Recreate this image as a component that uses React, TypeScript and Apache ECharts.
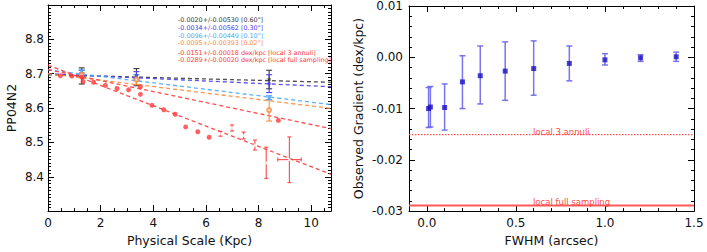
import React, { useEffect, useRef } from "react";
import * as echarts from "echarts";

const FONT = "DejaVu Sans";

// ---------- Left panel data ----------
const leftXRange = [0, 10.75];
const leftYRange = [8.3, 8.9];

// filled red points (local full sampling annuli)
const redX = [0.47, 0.91, 1.28, 1.33, 1.73, 2.18, 2.62, 3.06, 3.51, 3.51, 3.95, 4.40, 4.83, 5.23, 5.69, 6.12, 8.75];
const redY = [8.694, 8.693, 8.690, 8.677, 8.675, 8.666, 8.657, 8.653, 8.662, 8.640, 8.608, 8.595, 8.582, 8.545, 8.531, 8.515, 8.564];

// red points with error bars
const redErrX = [6.55, 6.99, 7.43, 7.86, 8.29, 9.17];
const redErrY = [8.525, 8.542, 8.520, 8.492, 8.440, 8.450];
const redErrLo = [8.518, 8.533, 8.510, 8.478, 8.395, 8.383];
const redErrHi = [8.532, 8.551, 8.530, 8.507, 8.486, 8.516];
const redXErrY = [8.450];
const redXErrLo = [8.73];
const redXErrHi = [9.62];

// convolved measurements at three scales
const convX = [1.28, 3.36, 8.40];
const blackY = [8.694, 8.690, 8.683];
const blackLo = [8.670, 8.665, 8.656];
const blackHi = [8.717, 8.715, 8.710];
const blueY = [8.700, 8.695, 8.671];
const blueLo = [8.692, 8.684, 8.645];
const blueHi = [8.710, 8.706, 8.697];
const cyanY = [8.706, 8.688, 8.630];
const cyanLo = [8.700, 8.680, 8.624];
const cyanHi = [8.711, 8.697, 8.636];
const orangeY = [8.697, 8.683, 8.594];
const orangeLo = [8.690, 8.668, 8.562];
const orangeHi = [8.703, 8.697, 8.625];

// fitted gradients: value at x=0 and at right edge
const fitNames = ["0.60", "0.30", "0.10", "0.02", "local 3 annuli", "local full sampling"];
const fitStartY = [8.697, 8.700, 8.711, 8.700, 8.712, 8.725];
const fitEndY = [8.675, 8.662, 8.610, 8.599, 8.540, 8.407];

const legendTexts = [
  "-0.0020+/-0.00530 [0.60\"]",
  "-0.0034+/-0.00562 [0.30\"]",
  "-0.0096+/-0.00449 [0.10\"]",
  "-0.0095+/-0.00393 [0.02\"]",
  "-0.0151+/-0.00018 dex/kpc [local 3 annuli]",
  "-0.0289+/-0.00020 dex/kpc [local full sampling]",
];

// ---------- Right panel data ----------
const rightXRange = [-0.1, 1.5];
const rightYRange = [-0.03, 0.01];
const fwhm = [0.01, 0.02, 0.10, 0.20, 0.30, 0.44, 0.60, 0.80, 1.00, 1.20, 1.40];
const grad = [-0.0100, -0.0097, -0.0098, -0.0048, -0.0036, -0.0027, -0.0022, -0.0012, -0.0005, -0.0001, 0.0001];
const gradLo = [-0.0137, -0.0136, -0.0142, -0.0100, -0.0091, -0.0084, -0.0074, -0.0046, -0.0015, -0.0008, -0.0008];
const gradHi = [-0.0059, -0.0057, -0.0052, 0.0003, 0.0022, 0.0030, 0.0032, 0.0022, 0.0007, 0.0005, 0.0010];
const refLabels = ["local 3 annuli", "local full sampling"];
const refValues = [-0.0151, -0.0289];

// ---------- Colours ----------
const C_BLACK = "#3a3a3a";
const C_BLUE = "#4a3cec";
const C_CYAN = "#4aa8f8";
const C_ORANGE = "#ff8a3a";
const C_RED = "#ff3a3a";
const fitColors = [C_BLACK, C_BLUE, C_CYAN, C_ORANGE, C_RED, C_RED];

function vErrSeries(xs: number[], lo: number[], hi: number[], color: string, xi: number, yi: number, cap: number, lw: number, opacity = 1) {
  return {
    type: "custom",
    xAxisIndex: xi,
    yAxisIndex: yi,
    encode: { x: 0, y: [1, 2] },
    data: xs.map((x, i) => [x, lo[i], hi[i]]),
    z: 3,
    renderItem: (params: any, api: any) => {
      const x = api.value(0);
      const p1 = api.coord([x, api.value(1)]);
      const p2 = api.coord([x, api.value(2)]);
      const st = { stroke: color, lineWidth: lw, opacity };
      return {
        type: "group",
        children: [
          { type: "line", shape: { x1: p1[0], y1: p1[1], x2: p2[0], y2: p2[1] }, style: st },
          { type: "line", shape: { x1: p1[0] - cap, y1: p1[1], x2: p1[0] + cap, y2: p1[1] }, style: st },
          { type: "line", shape: { x1: p2[0] - cap, y1: p2[1], x2: p2[0] + cap, y2: p2[1] }, style: st },
        ],
      };
    },
  };
}

function hErrSeries(ys: number[], lo: number[], hi: number[], color: string, xi: number, yi: number, cap: number, lw: number) {
  return {
    type: "custom",
    xAxisIndex: xi,
    yAxisIndex: yi,
    encode: { x: [1, 2], y: 0 },
    data: ys.map((y, i) => [y, lo[i], hi[i]]),
    z: 3,
    renderItem: (params: any, api: any) => {
      const y = api.value(0);
      const p1 = api.coord([api.value(1), y]);
      const p2 = api.coord([api.value(2), y]);
      const st = { stroke: color, lineWidth: lw, opacity: 0.85 };
      return {
        type: "group",
        children: [
          { type: "line", shape: { x1: p1[0], y1: p1[1], x2: p2[0], y2: p2[1] }, style: st },
          { type: "line", shape: { x1: p1[0], y1: p1[1] - cap, x2: p1[0], y2: p1[1] + cap }, style: st },
          { type: "line", shape: { x1: p2[0], y1: p2[1] - cap, x2: p2[0], y2: p2[1] + cap }, style: st },
        ],
      };
    },
  };
}

const axisCommon = {
  axisLine: { show: true, onZero: false, lineStyle: { color: "#000", width: 1 } },
  axisTick: { show: true, inside: true, length: 6, lineStyle: { color: "#000" } },
  minorTick: { show: true, length: 3, lineStyle: { color: "#000" } },
  splitLine: { show: false },
  nameTextStyle: { color: "#111", fontFamily: FONT, fontSize: 12.5 },
};
const labelStyle = { color: "#111", fontFamily: FONT, fontSize: 12 };

export default function App() {
  const ref = useRef<HTMLDivElement>(null);
  useEffect(() => {
    if (!ref.current) return;
    document.body.style.margin = "0";
    const chart = echarts.init(ref.current, undefined, { renderer: "svg" });

    const series: any[] = [];
    // fit lines
    fitNames.forEach((n, i) => {
      series.push({
        type: "line",
        name: n,
        xAxisIndex: 0,
        yAxisIndex: 0,
        data: [[leftXRange[0], fitStartY[i]], [leftXRange[1], fitEndY[i]]],
        symbol: "none",
        lineStyle: { color: fitColors[i], width: 1.3, type: [4, 3], opacity: 0.9 },
        z: 2,
      });
    });
    // convolved error bars
    series.push(vErrSeries(convX, blackLo, blackHi, C_BLACK, 0, 0, 3, 1.1));
    series.push(vErrSeries(convX, orangeLo, orangeHi, C_ORANGE, 0, 0, 3, 1.1));
    series.push(vErrSeries(convX, blueLo, blueHi, C_BLUE, 0, 0, 3, 1.1));
    series.push(vErrSeries(convX, cyanLo, cyanHi, C_CYAN, 0, 0, 3, 1.1));
    series.push({ type: "scatter", xAxisIndex: 0, yAxisIndex: 0, data: convX.map((x, i) => [x, blackY[i]]), symbol: "rect", symbolSize: 3, itemStyle: { color: C_BLACK }, z: 4 });
    series.push({ type: "scatter", xAxisIndex: 0, yAxisIndex: 0, data: convX.map((x, i) => [x, blueY[i]]), symbol: "rect", symbolSize: 3, itemStyle: { color: C_BLUE }, z: 4 });
    series.push({ type: "scatter", xAxisIndex: 0, yAxisIndex: 0, data: convX.map((x, i) => [x, cyanY[i]]), symbol: "rect", symbolSize: 3, itemStyle: { color: C_CYAN }, z: 4 });
    series.push({ type: "scatter", xAxisIndex: 0, yAxisIndex: 0, data: convX.map((x, i) => [x, orangeY[i]]), symbol: "emptyCircle", symbolSize: 4, itemStyle: { color: C_ORANGE, borderColor: C_ORANGE }, z: 4 });
    // red points
    series.push({ type: "scatter", xAxisIndex: 0, yAxisIndex: 0, data: redX.map((x, i) => [x, redY[i]]), symbol: "circle", symbolSize: 5, itemStyle: { color: C_RED }, z: 5 });
    series.push(vErrSeries(redErrX, redErrLo, redErrHi, C_RED, 0, 0, 2, 1.2, 0.85));
    series.push(hErrSeries(redXErrY, redXErrLo, redXErrHi, C_RED, 0, 0, 2, 1.2));
    series.push({ type: "scatter", xAxisIndex: 0, yAxisIndex: 0, data: redErrX.map((x, i) => [x, redErrY[i]]), symbol: "emptyCircle", symbolSize: 3, itemStyle: { color: "rgba(0,0,0,0)", borderColor: "#ff7070", borderWidth: 0.8 }, z: 5 });

    // right panel
    refValues.forEach((v, i) => {
      series.push({
        type: "line",
        name: refLabels[i],
        xAxisIndex: 2,
        yAxisIndex: 2,
        data: [[rightXRange[0], v], [rightXRange[1], v]],
        symbol: "none",
        lineStyle: i === 0 ? { color: "#ff5050", width: 1.2, type: [1.5, 1.5] } : { color: "#ff5a5a", width: 2 },
        z: 2,
      });
    });
    series.push(vErrSeries(fwhm, gradLo, gradHi, "#6a66ee", 2, 2, 3, 1.5, 0.9));
    series.push({ type: "scatter", xAxisIndex: 2, yAxisIndex: 2, data: fwhm.map((x, i) => [x, grad[i]]), symbol: "rect", symbolSize: 5, itemStyle: { color: "#1a10c0" }, z: 5 });

    const mult = (v: number, step: number) => Math.abs(v / step - Math.round(v / step)) < 1e-6;

    chart.setOption({
      animation: false,
      backgroundColor: "#ffffff",
      grid: [
        { left: 48, top: 5, width: 283, height: 211 },
        { left: 409, top: 5, width: 285, height: 211 },
      ],
      xAxis: [
        {
          ...axisCommon, gridIndex: 0, type: "value", position: "bottom", min: leftXRange[0], max: leftXRange[1], interval: 2,
          minorTick: { ...axisCommon.minorTick, splitNumber: 4 },
          name: "Physical Scale (Kpc)", nameLocation: "middle", nameGap: 21,
          axisLabel: { ...labelStyle, margin: 6, formatter: (v: number) => (mult(v, 2) ? String(Math.round(v)) : "") },
        },
        {
          ...axisCommon, gridIndex: 0, type: "value", position: "top", min: leftXRange[0], max: leftXRange[1], interval: 2,
          minorTick: { ...axisCommon.minorTick, splitNumber: 4 }, axisLabel: { show: false },
        },
        {
          ...axisCommon, gridIndex: 1, type: "value", position: "bottom", min: rightXRange[0], max: rightXRange[1], splitNumber: 3,
          minorTick: { ...axisCommon.minorTick, splitNumber: 5 },
          name: "FWHM (arcsec)", nameLocation: "middle", nameGap: 21,
          axisLabel: { ...labelStyle, margin: 6, formatter: (v: number) => (mult(v, 0.5) ? v.toFixed(1) : "") },
        },
        {
          ...axisCommon, gridIndex: 1, type: "value", position: "top", min: rightXRange[0], max: rightXRange[1], splitNumber: 3,
          minorTick: { ...axisCommon.minorTick, splitNumber: 5 }, axisLabel: { show: false },
        },
      ],
      yAxis: [
        {
          ...axisCommon, gridIndex: 0, type: "value", position: "left", min: leftYRange[0], max: leftYRange[1], interval: 0.1,
          minorTick: { ...axisCommon.minorTick, splitNumber: 10 },
          name: "PP04N2", nameLocation: "middle", nameGap: 30, nameRotate: 90,
          axisLabel: { ...labelStyle, margin: 4, formatter: (v: number) => (v > 8.35 && v < 8.85 ? v.toFixed(1) : "") },
        },
        {
          ...axisCommon, gridIndex: 0, type: "value", position: "right", min: leftYRange[0], max: leftYRange[1], interval: 0.1,
          minorTick: { ...axisCommon.minorTick, splitNumber: 10 }, axisLabel: { show: false },
        },
        {
          ...axisCommon, gridIndex: 1, type: "value", position: "left", min: rightYRange[0], max: rightYRange[1], interval: 0.01,
          minorTick: { ...axisCommon.minorTick, splitNumber: 5 },
          name: "Observed Gradient (dex/kpc)", nameLocation: "middle", nameGap: 44, nameRotate: 90,
          axisLabel: { ...labelStyle, margin: 6, formatter: (v: number) => v.toFixed(2) },
        },
        {
          ...axisCommon, gridIndex: 1, type: "value", position: "right", min: rightYRange[0], max: rightYRange[1], interval: 0.01,
          minorTick: { ...axisCommon.minorTick, splitNumber: 5 }, axisLabel: { show: false },
        },
      ],
      graphic: [
        ...legendTexts.map((t, i) => ({
          type: "text",
          x: 178,
          y: [20, 28, 35.5, 42.5, 52.5, 60][i],
          z: 10,
          style: { text: t, fill: fitColors[i], fontFamily: FONT, fontSize: 6.4, verticalAlign: "middle" },
        })),
        ...refLabels.map((t, i) => ({
          type: "text",
          x: 533,
          y: [131.5, 202][i],
          z: 10,
          style: { text: t, fill: "#ff4a4a", fontFamily: FONT, fontSize: 8.5, verticalAlign: "middle" },
        })),
      ],
      series,
    });
    return () => chart.dispose();
  }, []);
  return <div ref={ref} style={{ position: "absolute", left: 0, top: 0, width: 707, height: 252 }} />;
}
